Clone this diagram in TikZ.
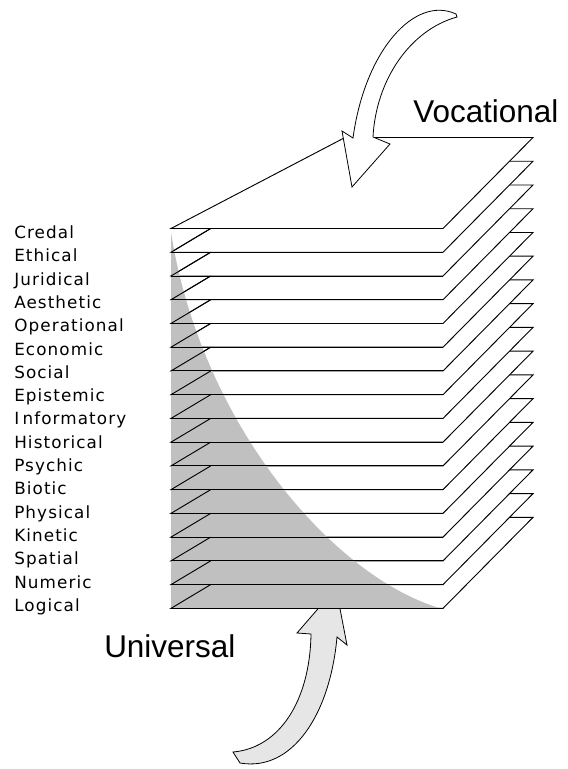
\documentclass[tikz,border=0pt]{standalone}
\usepackage{fontspec}
\usepackage{xcolor}
\usepackage{tikz}
\newfontfamily\lblfont[LetterSpace=6.5]{DejaVu Sans}
\newfontfamily\polefont{Liberation Sans}
\definecolor{aspectgray}{HTML}{C0C0C0}
\definecolor{palegray}{HTML}{E6E6E6}
\tikzstyle{layer}    = [draw, fill=white, line width=0.7pt, line join=miter]
\tikzstyle{edge}     = [line width=0.7pt]
\tikzstyle{aspect}   = [anchor=base west, inner sep=0pt, font=\lblfont\fontsize{12.6}{14}\selectfont]
\tikzstyle{pole}     = [anchor=base west, inner sep=0pt, font=\polefont\fontsize{23.6}{26}\selectfont]
\tikzstyle{bigarrow} = [draw, line width=0.6pt, line join=miter]

\begin{document}
\begin{tikzpicture}[x=0.75pt, y=-0.75pt]
    \useasboundingbox (0,0) rectangle (568,769);

    % arrow coming up from below
    \draw [bigarrow, fill=palegray] (233,752) .. controls (280,748) and (310,700) .. (311,634)
        -- (297,633) -- (336,588) -- (347,645) -- (337,637)
        .. controls (330,715) and (292,772) .. (240,763) -- cycle;

    % stack of aspect planes, bottom first
    \foreach \i in {16,15,...,1}
        \draw [layer] (171,228.5+23.74*\i) -- (443,228.5+23.74*\i)
            -- (533,137.5+23.74*\i) -- (323,137.5+23.74*\i) -- cycle;
    \draw [layer] (171,228.5) -- (443,228.5) -- (533,137.5) -- (345,137.5) -- cycle;

    % shaded region
    \fill [aspectgray] (171,232) .. controls (200,420) and (330,575) .. (440,608.3)
        -- (171,608.3) -- cycle;
    \foreach \i in {1,...,16} {
        \draw [edge] (171,228.5+23.74*\i) -- (443,228.5+23.74*\i);
        \draw [edge] (171,228.5+23.74*\i) -- (210.7,204.76+23.74*\i);
    }

    % arrow coming down from above
    \draw [bigarrow, fill=white] (456,14) .. controls (415,-5) and (365,50) .. (353,138)
        -- (342,131) -- (352,187) -- (390,144) -- (373,137)
        .. controls (376,80) and (410,30) .. (457,17) -- cycle;

    \node [pole] (vocational) at (413,122.5) {Vocational};
    \node [pole] (universal)  at (104,657.3) {Universal};

    \node [aspect] (credal)      at (14,238.3) {Credal};
    \node [aspect] (ethical)     at (14,261.6) {Ethical};
    \node [aspect] (juridical)   at (14,285.0) {Juridical};
    \node [aspect] (aesthetic)   at (14,308.3) {Aesthetic};
    \node [aspect] (operational) at (14,331.6) {Operational};
    \node [aspect] (economic)    at (14,355.0) {Economic};
    \node [aspect] (social)      at (14,378.3) {Social};
    \node [aspect] (epistemic)   at (14,401.6) {Epistemic};
    \node [aspect] (informatory) at (14,424.9) {I\hspace{2.5pt}nformatory};
    \node [aspect] (historical)  at (14,448.3) {Historical};
    \node [aspect] (psychic)     at (14,471.6) {Psychic};
    \node [aspect] (biotic)      at (14,494.9) {Biotic};
    \node [aspect] (physical)    at (14,518.3) {Physical};
    \node [aspect] (kinetic)     at (14,541.6) {Kinetic};
    \node [aspect] (spatial)     at (14,564.9) {Spatial};
    \node [aspect] (numeric)     at (14,588.3) {Numeric};
    \node [aspect] (logical)     at (14,611.6) {Logical};
\end{tikzpicture}
\end{document}
